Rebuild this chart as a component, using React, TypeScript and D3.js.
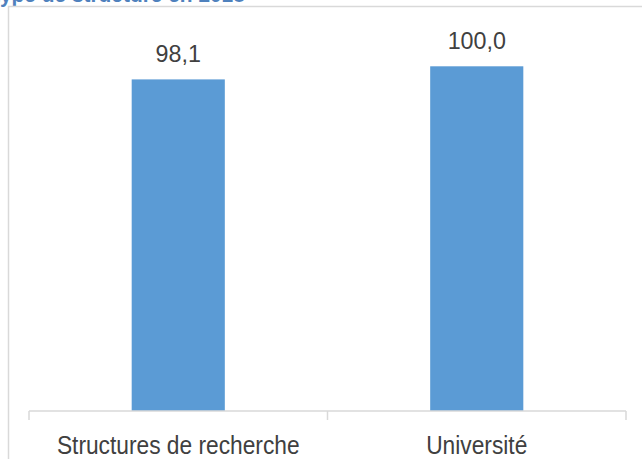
import React from "react";
import * as d3 from "d3";

const categories = ["Structures de recherche", "Université"];
const values = [98.1, 100.0];
const valueLabels = ["98,1", "100,0"];
const title = "type de structure en 2018";

const W = 642;
const H = 459;

export default function App() {
  const x = d3
    .scaleBand<string>()
    .domain(categories)
    .range([29, 626])
    .paddingInner(0.688)
    .paddingOuter(0.344);
  const y = d3.scaleLinear().domain([50, 100]).range([411, 66.3]);
  const axisY = y(50);
  const ticks = [29, ...categories.map((c) => (x(c) as number) + x.bandwidth() / 2 + x.step() / 2)];

  return (
    <svg
      width={W}
      height={H}
      style={{ position: "absolute", left: 0, top: 0, background: "#fff" }}
      fontFamily="'Liberation Sans', Arial, sans-serif"
    >
      <g transform="translate(-7,1.5) scale(0.95,1)">
        <text x={0} y={0} fontSize={22} fontWeight="bold" fill="#4F81BD">
          {title}
        </text>
      </g>
      <path d={`M8.5,${H} V6.5 H${W}`} fill="none" stroke="#d9d9d9" strokeWidth={1.5} />
      {categories.map((c, i) => (
        <rect
          key={c}
          x={x(c)}
          y={y(values[i])}
          width={x.bandwidth()}
          height={axisY - y(values[i])}
          fill="#5B9BD5"
        />
      ))}
      <line x1={29} x2={626} y1={axisY} y2={axisY} stroke="#d9d9d9" strokeWidth={1.5} />
      {ticks.map((t, i) => (
        <line key={i} x1={t} x2={t} y1={axisY} y2={axisY + 9} stroke="#d9d9d9" strokeWidth={1.5} />
      ))}
      {categories.map((c, i) => (
        <g
          key={c}
          transform={`translate(${(x(c) as number) + x.bandwidth() / 2},${y(values[i]) - 17.5}) scale(0.97,1)`}
        >
          <text x={0} y={0} fontSize={24} textAnchor="middle" fill="#404040">
            {valueLabels[i]}
          </text>
        </g>
      ))}
      {categories.map((c) => (
        <g key={c} transform={`translate(${(x(c) as number) + x.bandwidth() / 2},453.5) scale(0.91,1)`}>
          <text x={0} y={0} fontSize={25} textAnchor="middle" fill="#404040">
            {c}
          </text>
        </g>
      ))}
    </svg>
  );
}
